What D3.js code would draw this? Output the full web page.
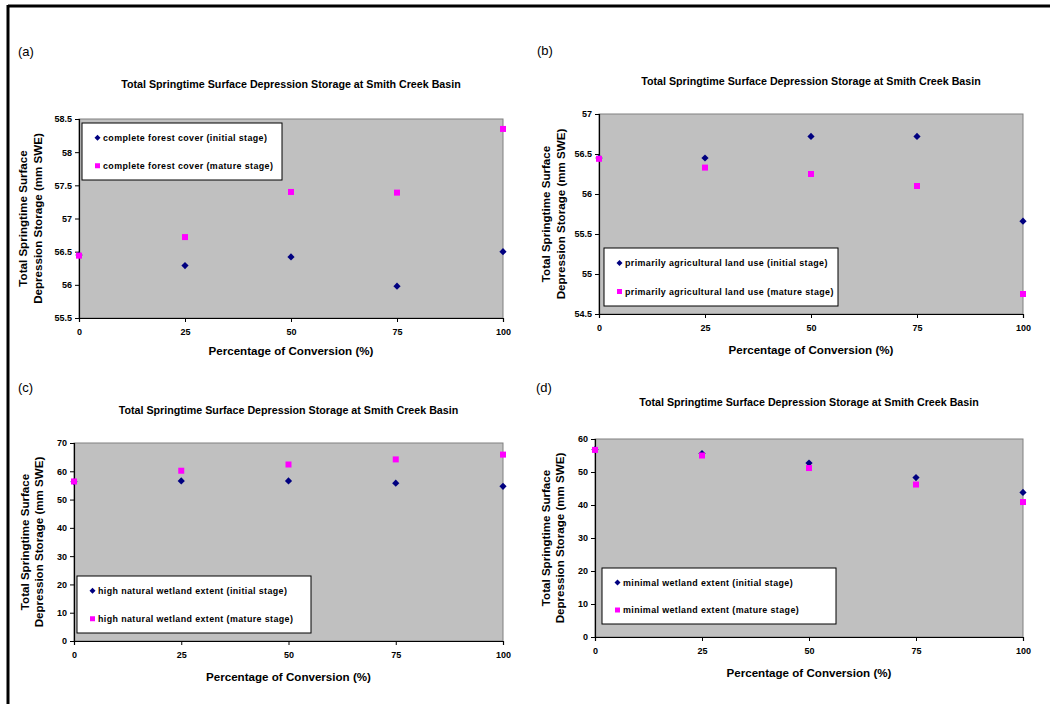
<!DOCTYPE html>
<html><head><meta charset="utf-8">
<script src="https://cdn.jsdelivr.net/npm/d3@7"></script>
<style>body{margin:0;background:#fff}svg{display:block}text{font-family:"Liberation Sans",Arial,sans-serif}</style>
</head><body><svg id="c" width="1050" height="704"></svg>
<script>
const xValues = [0, 25, 50, 75, 100];
const xTickLabels = ["0", "25", "50", "75", "100"];
const titleText = "Total Springtime Surface Depression Storage at Smith Creek Basin";
const yTitleLines = ["Total Springtime Surface", "Depression Storage (mm SWE)"];
const xTitleText = "Percentage of Conversion (%)";
const panelLabels = ["(a)", "(b)", "(c)", "(d)"];

const aInitial = [56.45, 56.29, 56.42, 55.98, 56.50];
const aMature  = [56.44, 56.72, 57.40, 57.39, 58.35];
const aTicks = [55.5, 56, 56.5, 57, 57.5, 58, 58.5];
const aLegend = ["complete forest cover (initial stage)", "complete forest cover (mature stage)"];

const bInitial = [56.45, 56.45, 56.72, 56.72, 55.66];
const bMature  = [56.44, 56.33, 56.25, 56.10, 54.75];
const bTicks = [54.5, 55, 55.5, 56, 56.5, 57];
const bLegend = ["primarily agricultural land use (initial stage)", "primarily agricultural land use (mature stage)"];

const cInitial = [56.3, 56.6, 56.6, 55.8, 54.7];
const cMature  = [56.4, 60.2, 62.4, 64.2, 65.9];
const cTicks = [0, 10, 20, 30, 40, 50, 60, 70];
const cLegend = ["high natural wetland extent (initial stage)", "high natural wetland extent (mature stage)"];

const dInitial = [56.8, 55.6, 52.7, 48.3, 43.8];
const dMature  = [56.7, 55.0, 51.2, 46.2, 40.9];
const dTicks = [0, 10, 20, 30, 40, 50, 60];
const dLegend = ["minimal wetland extent (initial stage)", "minimal wetland extent (mature stage)"];

const panels = [
  {label: panelLabels[0], init: aInitial, mat: aMature, ticks: aTicks, legend: aLegend,
   x0: 79, x1: 503, y0: 119, y1: 318, lab: [18, 51], titleY: 84, xTitleY: 350,
   yT: [22, 37], leg: {x: 82, y: 123, w: 200, h: 57}},
  {label: panelLabels[1], init: bInitial, mat: bMature, ticks: bTicks, legend: bLegend,
   x0: 599, x1: 1023, y0: 114, y1: 314, lab: [537, 50], titleY: 81, xTitleY: 349,
   yT: [545, 560], leg: {x: 604, y: 248, w: 234, h: 58}},
  {label: panelLabels[2], init: cInitial, mat: cMature, ticks: cTicks, legend: cLegend,
   x0: 74, x1: 503, y0: 443, y1: 641, lab: [18, 387], titleY: 410, xTitleY: 676,
   yT: [24, 38], leg: {x: 77, y: 576, w: 234, h: 57}},
  {label: panelLabels[3], init: dInitial, mat: dMature, ticks: dTicks, legend: dLegend,
   x0: 595, x1: 1023, y0: 439, y1: 637, lab: [536, 387], titleY: 402, xTitleY: 672,
   yT: [545, 559], leg: {x: 602, y: 568, w: 234, h: 56}}
];

const svg = d3.select("#c");
svg.append("line").attr("x1", 8).attr("x2", 1050).attr("y1", 6).attr("y2", 6).attr("stroke", "#000").attr("stroke-width", 3);
svg.append("line").attr("x1", 8).attr("x2", 8).attr("y1", 5).attr("y2", 704).attr("stroke", "#000").attr("stroke-width", 3);

const NAVY = "#000080", MAG = "#ff00ff";
const diamondPath = r => `M0,${-r}L${r},0L0,${r}L${-r},0Z`;

panels.forEach(p => {
  const g = svg.append("g");
  const x = d3.scaleLinear().domain([0, 100]).range([p.x0, p.x1]);
  const y = d3.scaleLinear().domain(d3.extent(p.ticks)).range([p.y1, p.y0]);

  g.append("rect").attr("x", p.x0).attr("y", p.y0).attr("width", p.x1 - p.x0).attr("height", p.y1 - p.y0)
    .attr("fill", "#c0c0c0").attr("stroke", "#808080").attr("stroke-width", 1);

  g.append("text").attr("x", p.lab[0]).attr("y", p.lab[1]).attr("dominant-baseline", "central")
    .attr("font-size", 13).text(p.label);
  g.append("text").attr("x", (p.x0 + p.x1) / 2).attr("y", p.titleY).attr("dominant-baseline", "central")
    .attr("text-anchor", "middle").attr("font-size", 10.7).attr("font-weight", "bold").text(titleText);

  const yAxis = d3.axisLeft(y).tickValues(p.ticks).tickSize(4).tickPadding(3).tickFormat(d3.format("~g"));
  const ya = g.append("g").attr("transform", `translate(${p.x0},0)`).call(yAxis);
  const xAxis = d3.axisBottom(x).tickValues(xValues).tickSize(4).tickPadding(7).tickFormat((d, i) => xTickLabels[i]);
  const xa = g.append("g").attr("transform", `translate(0,${p.y1})`).call(xAxis);
  [ya, xa].forEach(a => {
    a.select(".domain").attr("stroke", "#000").attr("stroke-width", 1.2);
    a.selectAll(".tick line").attr("stroke", "#000");
    a.selectAll(".tick text").attr("font-size", 9).attr("font-weight", "bold").attr("fill", "#000")
      .attr("font-family", "'Liberation Sans', Arial, sans-serif");
  });

  g.append("text").attr("x", (p.x0 + p.x1) / 2).attr("y", p.xTitleY).attr("dominant-baseline", "central")
    .attr("text-anchor", "middle").attr("font-size", 11.6).attr("font-weight", "bold").text(xTitleText);
  const cy = (p.y0 + p.y1) / 2;
  yTitleLines.forEach((t, i) => {
    g.append("text").attr("transform", `translate(${p.yT[i]},${cy}) rotate(-90)`)
      .attr("dominant-baseline", "central").attr("text-anchor", "middle")
      .attr("font-size", 11.6).attr("font-weight", "bold").text(t);
  });

  g.selectAll(".di").data(p.init).join("path").attr("class", "di")
    .attr("transform", (d, i) => `translate(${x(xValues[i])},${y(d)})`).attr("d", diamondPath(3.6)).attr("fill", NAVY);
  g.selectAll(".sq").data(p.mat).join("rect").attr("class", "sq")
    .attr("x", (d, i) => x(xValues[i]) - 3).attr("y", d => y(d) - 3).attr("width", 6).attr("height", 6).attr("fill", MAG);

  const L = p.leg;
  const lg = g.append("g");
  lg.append("rect").attr("x", L.x).attr("y", L.y).attr("width", L.w).attr("height", L.h)
    .attr("fill", "#fff").attr("stroke", "#000").attr("stroke-width", 1);
  const r1 = L.y + L.h * 0.26, r2 = L.y + L.h * 0.75;
  lg.append("path").attr("transform", `translate(${L.x + 15.5},${r1})`).attr("d", diamondPath(3)).attr("fill", NAVY);
  lg.append("rect").attr("x", L.x + 13).attr("y", r2 - 2.5).attr("width", 5).attr("height", 5).attr("fill", MAG);
  [r1, r2].forEach((ry, i) => {
    lg.append("text").attr("x", L.x + 21).attr("y", ry).attr("dominant-baseline", "central")
      .attr("font-size", 8.9).attr("font-weight", "bold").attr("letter-spacing", 0.4).text(p.legend[i]);
  });
});
</script></body></html>
